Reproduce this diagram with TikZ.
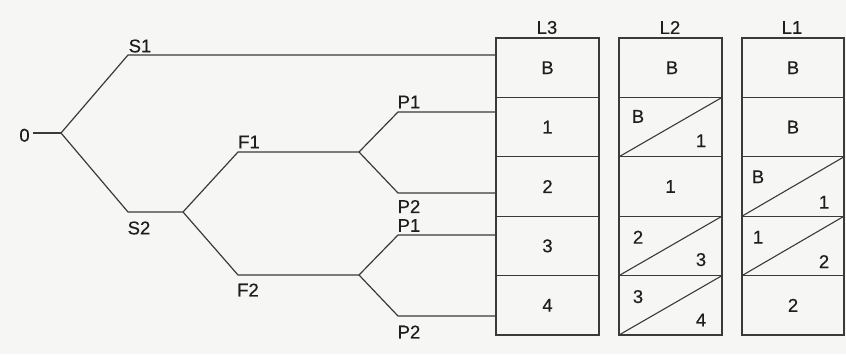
\documentclass[tikz,border=0pt]{standalone}
\usepackage{fontspec}
\setmainfont{Liberation Sans}
\newfontfamily\labelfont{Liberation Sans}[FakeBold=0.4]
\definecolor{linecol}{RGB}{58,58,58}
\definecolor{inkcol}{RGB}{30,30,30}
\definecolor{paper}{RGB}{246,246,244}
\begin{document}
\begin{tikzpicture}[x=1pt,y=-1pt,
  wire/.style={draw=linecol, line width=1.2pt, line join=round},
  lbl/.style={text=inkcol, font=\labelfont\fontsize{18.5}{18.5}\selectfont, inner sep=0pt},
  cell/.style={draw=linecol, line width=1.2pt, minimum width=103pt,
    minimum height=59.4pt, inner sep=0pt, outer sep=0pt,
    text=inkcol, font=\labelfont\fontsize{18.5}{18.5}\selectfont},
  slash/.style={draw=linecol, line width=1.1pt}]

% paper
\fill[paper] (0,0) rectangle (846,354);
\useasboundingbox (0,0) rectangle (846,354);

% ---------- column L3 ----------
\node[lbl] (hL3) at (547,27.5) {L3};
\node[cell] (a1) at (547.5,67.7)  {B};
\node[cell] (a2) at (547.5,127.1) {1};
\node[cell] (a3) at (547.5,186.5) {2};
\node[cell] (a4) at (547.5,245.9) {3};
\node[cell] (a5) at (547.5,305.3) {4};

% ---------- column L2 ----------
\node[lbl] (hL2) at (670,27.5) {L2};
\node[cell] (b1) at (670.5,67.7)  {\hspace*{3pt}B};
\node[cell] (b2) at (670.5,127.1) {};
\node[cell] (b3) at (670.5,186.5) {1};
\node[cell] (b4) at (670.5,245.9) {};
\node[cell] (b5) at (670.5,305.3) {};
\draw[slash] (b2.south west) -- (b2.north east);
\draw[slash] (b4.south west) -- (b4.north east);
\draw[slash] (b5.south west) -- (b5.north east);
\node[lbl] at ([xshift=19pt,yshift=-19pt]b2.north west) {B};
\node[lbl] at ([xshift=-21pt,yshift=16pt]b2.south east) {1};
\node[lbl] at ([xshift=19pt,yshift=-21pt]b4.north west) {2};
\node[lbl] at ([xshift=-21pt,yshift=16pt]b4.south east) {3};
\node[lbl] at ([xshift=19pt,yshift=-21pt]b5.north west) {3};
\node[lbl] at ([xshift=-21pt,yshift=15pt]b5.south east) {4};

% ---------- column L1 ----------
\node[lbl] (hL1) at (792,27.5) {L1};
\node[cell, minimum width=102pt] (c1) at (793,67.7)  {B};
\node[cell, minimum width=102pt] (c2) at (793,127.1) {B};
\node[cell, minimum width=102pt] (c3) at (793,186.5) {};
\node[cell, minimum width=102pt] (c4) at (793,245.9) {};
\node[cell, minimum width=102pt] (c5) at (793,305.3) {2};
\draw[slash] (c3.south west) -- (c3.north east);
\draw[slash] (c4.south west) -- (c4.north east);
\node[lbl] at ([xshift=16pt,yshift=-20pt]c3.north west) {B};
\node[lbl] at ([xshift=-20pt,yshift=14pt]c3.south east) {1};
\node[lbl] at ([xshift=16pt,yshift=-21pt]c4.north west) {1};
\node[lbl] at ([xshift=-20pt,yshift=14pt]c4.south east) {2};

% ---------- event tree ----------
\node[lbl] (zero) at (24.5,135.3) {0};
\coordinate (root) at (61,133);
\coordinate (s1)  at (128,55);
\coordinate (s2)  at (128,212);
\coordinate (s2e) at (183,212);
\coordinate (f1)  at (238,152);
\coordinate (f1e) at (359,152);
\coordinate (f2)  at (238,275);
\coordinate (f2e) at (359,275);
\coordinate (p1a) at (398,112);
\coordinate (p2a) at (398,193);
\coordinate (p1b) at (398,235);
\coordinate (p2b) at (398,316);

\draw[wire] ([xshift=3pt]zero.east |- root) -- (root);
\draw[wire] (root) -- (s1) -- (s1 -| a1.west);
\draw[wire] (root) -- (s2) -- (s2e);
\draw[wire] (s2e) -- (f1) -- (f1e);
\draw[wire] (s2e) -- (f2) -- (f2e);
\draw[wire] (f1e) -- (p1a) -- (p1a -| a2.west);
\draw[wire] (f1e) -- (p2a) -- (p2a -| a3.west);
\draw[wire] (f2e) -- (p1b) -- (p1b -| a4.west);
\draw[wire] (f2e) -- (p2b) -- (p2b -| a5.west);

\node[lbl] (tS1) at (140,46)  {S1};
\node[lbl] (tS2) at (139,228) {S2};
\node[lbl] (tF1) at (249,142) {F1};
\node[lbl] (tF2) at (248,290) {F2};
\node[lbl] (tP1a) at (409,102) {P1};
\node[lbl] (tP2a) at (409,206.5) {P2};
\node[lbl] (tP1b) at (409,225.5) {P1};
\node[lbl] (tP2b) at (409,332) {P2};
\end{tikzpicture}
\end{document}
